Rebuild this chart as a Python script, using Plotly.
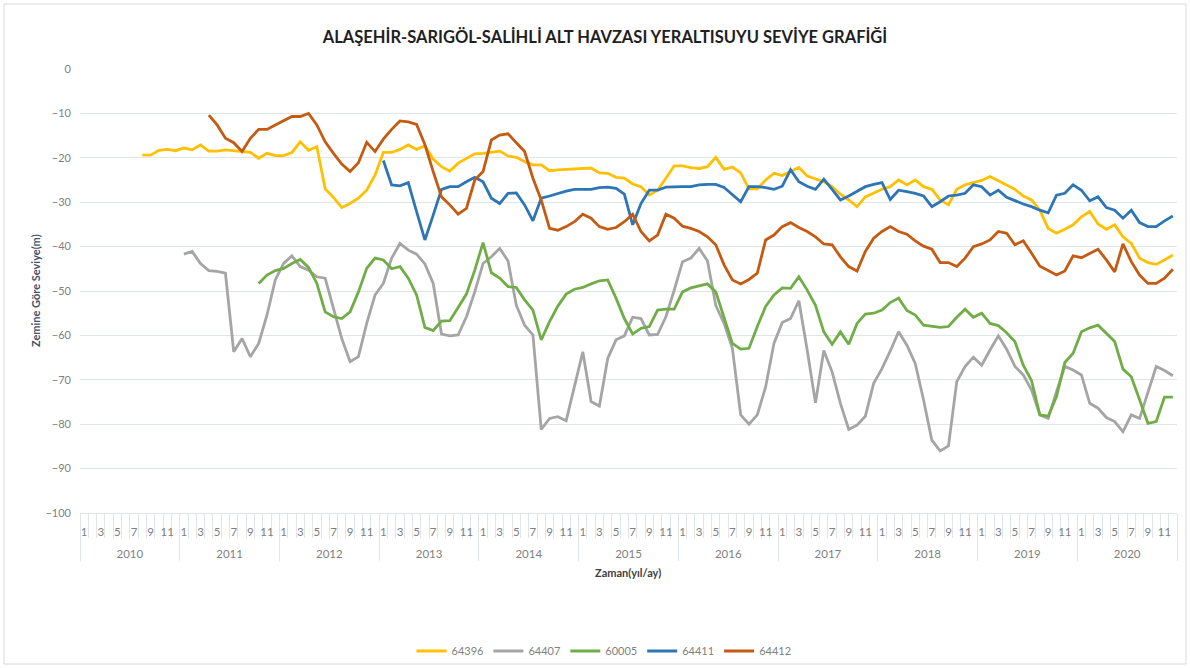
import plotly.graph_objects as go

# ---------------- data ----------------
years = list(range(2010, 2021))
months = list(range(1, 13))
month_labels = ["1", "", "3", "", "5", "", "7", "", "9", "", "11", ""]
series_names = ["64396", "64407", "60005", "64411", "64412"]
series_colors = ["#FFC000", "#A5A5A5", "#70AD47", "#2E75B6", "#C55A11"]

s64396 = [None] * 7 + [
    -19.4, -19.4, -18.3, -18.1, -18.4,                                   # 2010 Aug-Dec
    -17.8, -18.2, -17.1, -18.5, -18.5, -18.2, -18.4, -18.7, -18.8, -20.1, -19.0, -19.5,  # 2011
    -19.5, -18.8, -16.4, -18.3, -17.5, -27.0, -28.9, -31.2, -30.3, -29.1, -27.3, -23.9,  # 2012
    -18.8, -18.8, -18.1, -17.1, -18.1, -17.3, -20.3, -22.0, -23.0, -21.2, -20.1, -19.1,  # 2013
    -19.0, -18.8, -18.5, -19.6, -19.9, -20.9, -21.6, -21.6, -22.9, -22.7, -22.6, -22.5,  # 2014
    -22.4, -22.3, -23.4, -23.5, -24.4, -24.6, -25.9, -26.5, -28.4, -27.3, -24.6, -21.8,  # 2015
    -21.8, -22.2, -22.4, -22.0, -19.9, -22.6, -22.1, -23.4, -27.0, -27.0, -25.0, -23.5,  # 2016
    -24.0, -23.1, -22.2, -24.1, -24.8, -25.4, -26.5, -28.2, -29.5, -31.0, -28.8, -27.9,  # 2017
    -27.1, -26.5, -25.0, -26.1, -25.0, -26.5, -27.1, -29.5, -30.6, -27.1, -26.1, -25.6,  # 2018
    -25.1, -24.2, -25.1, -26.1, -27.1, -28.6, -29.5, -31.8, -35.9, -37.0, -36.1, -35.1,  # 2019
    -33.3, -32.1, -34.9, -36.1, -35.1, -37.8, -39.3, -42.6, -43.6, -44.0, -43.0, -41.9,  # 2020
]

s64407 = [None] * 12 + [
    -41.7, -41.1, -43.8, -45.4, -45.6, -46.0, -63.7, -60.7, -64.8, -61.8, -55.4, -47.5,  # 2011
    -43.8, -42.1, -44.5, -45.3, -46.8, -47.1, -53.9, -60.7, -65.9, -64.8, -57.3, -50.9,  # 2012
    -48.3, -42.6, -39.3, -40.8, -41.7, -43.9, -48.3, -59.7, -60.1, -59.9, -55.8, -50.2,  # 2013
    -43.8, -42.3, -40.4, -43.2, -53.2, -57.7, -59.9, -81.2, -78.7, -78.3, -79.2, -71.6,  # 2014
    -63.7, -74.9, -75.9, -65.2, -61.0, -60.1, -55.9, -56.2, -59.9, -59.8, -55.8, -49.8,  # 2015
    -43.4, -42.6, -40.4, -43.2, -53.2, -57.3, -62.9, -77.9, -80.0, -77.9, -71.6, -61.8,  # 2016
    -57.1, -56.2, -52.2, -63.3, -75.2, -63.4, -68.2, -75.3, -81.2, -80.2, -78.2, -70.8,  # 2017
    -67.5, -63.5, -59.2, -62.2, -66.3, -74.5, -83.6, -86.0, -84.9, -70.4, -67.0, -64.9,  # 2018
    -66.7, -63.3, -60.1, -63.1, -67.0, -68.9, -72.3, -77.9, -78.7, -72.7, -67.0, -67.8,  # 2019
    -68.9, -75.3, -76.4, -78.5, -79.4, -81.7, -77.9, -78.7, -73.0, -67.0, -67.9, -69.1,  # 2020
]

s60005 = [None] * 21 + [
    -48.3, -46.4, -45.4,                                                                 # 2011 Oct-Dec
    -44.9, -43.8, -42.9, -44.7, -48.3, -54.7, -55.8, -56.2, -54.7, -50.2, -44.9, -42.6,  # 2012
    -43.0, -45.0, -44.5, -47.1, -50.9, -58.2, -58.9, -56.8, -56.7, -53.7, -50.7, -45.3,  # 2013
    -39.1, -45.9, -47.1, -49.0, -49.2, -52.0, -54.3, -61.0, -56.9, -53.4, -50.7, -49.6,  # 2014
    -49.2, -48.4, -47.7, -47.5, -51.6, -56.2, -59.7, -58.4, -58.0, -54.3, -54.1, -54.1,  # 2015
    -50.2, -49.3, -48.8, -48.4, -50.2, -55.9, -61.8, -63.1, -62.9, -58.0, -53.5, -50.9,  # 2016
    -49.3, -49.4, -46.8, -49.8, -53.2, -59.2, -62.0, -59.2, -62.0, -57.3, -55.2, -55.0,  # 2017
    -54.3, -52.6, -51.6, -54.4, -55.4, -57.7, -58.0, -58.2, -58.0, -55.9, -54.1, -55.9,  # 2018
    -55.0, -57.3, -57.8, -59.4, -61.4, -66.7, -70.2, -77.9, -78.2, -73.8, -66.1, -64.0,  # 2019
    -59.2, -58.3, -57.7, -59.5, -61.4, -67.6, -69.3, -74.5, -79.8, -79.4, -73.9, -73.9,  # 2020
]

s64411 = [None] * 36 + [
    -20.6, -26.1, -26.3, -25.6, -32.1, -38.5, -32.9, -27.1, -26.5, -26.5, -25.4, -24.4,  # 2013
    -25.4, -29.1, -30.3, -28.0, -27.9, -30.6, -34.2, -29.1, -28.6, -28.0, -27.5, -27.1,  # 2014
    -27.1, -27.1, -26.7, -26.6, -26.9, -28.2, -35.1, -30.3, -27.3, -27.3, -26.6, -26.5,  # 2015
    -26.5, -26.5, -26.1, -26.0, -26.0, -26.7, -28.4, -29.9, -26.5, -26.5, -26.7, -27.1,  # 2016
    -26.4, -22.7, -25.4, -26.4, -27.1, -24.8, -27.1, -29.5, -28.6, -27.6, -26.5, -26.0,  # 2017
    -25.6, -29.4, -27.3, -27.6, -28.0, -28.6, -31.0, -29.9, -28.6, -28.4, -28.0, -26.1,  # 2018
    -26.5, -28.4, -27.3, -28.9, -29.7, -30.4, -31.0, -31.8, -32.4, -28.4, -28.0, -26.1,  # 2019
    -27.3, -29.7, -28.8, -31.2, -31.8, -33.6, -31.8, -34.6, -35.5, -35.5, -34.2, -33.1,  # 2020
]

s64412 = [None] * 15 + [
    -10.4, -12.6, -15.6, -16.6, -18.6, -15.6, -13.6, -13.6, -12.6,                       # 2011 Apr-Dec
    -11.6, -10.7, -10.7, -10.0, -12.6, -16.4, -19.0, -21.4, -23.1, -21.1, -16.5, -18.6,  # 2012
    -15.8, -13.6, -11.7, -11.9, -12.5, -17.0, -23.1, -28.8, -30.6, -32.7, -31.4, -25.0,  # 2013
    -23.1, -16.0, -14.9, -14.6, -16.6, -18.6, -24.6, -29.5, -35.9, -36.3, -35.5, -34.4,  # 2014
    -32.7, -33.6, -35.5, -36.1, -35.7, -34.4, -32.7, -36.6, -38.7, -37.4, -32.7, -33.6,  # 2015
    -35.4, -35.9, -36.6, -37.8, -39.6, -44.1, -47.5, -48.4, -47.4, -46.0, -38.5, -37.4,  # 2016
    -35.5, -34.6, -35.7, -36.6, -37.8, -39.4, -39.6, -42.3, -44.5, -45.5, -41.1, -38.1,  # 2017
    -36.6, -35.5, -36.6, -37.2, -38.7, -39.9, -40.6, -43.6, -43.6, -44.5, -42.6, -40.0,  # 2018
    -39.4, -38.5, -36.6, -37.0, -39.6, -38.7, -41.5, -44.4, -45.4, -46.4, -45.5, -42.1,  # 2019
    -42.5, -41.5, -40.6, -43.0, -45.7, -39.4, -43.4, -46.4, -48.3, -48.3, -47.1, -45.1,  # 2020
]

series_values = [s64396, s64407, s60005, s64411, s64412]

# ---------------- category positions ----------------
n_cat = len(years) * len(months)
x_idx = list(range(n_cat))
month_tickvals = [i for i in x_idx if month_labels[i % 12] != ""]
month_ticktext = [month_labels[i % 12] for i in month_tickvals]
year_tickvals = [k * 12 + 5.5 for k in range(len(years))]
year_ticktext = [str(y) for y in years]

GRID = "#E0E4EB"
FONT = "Lato, 'Open Sans', sans-serif"

fig = go.Figure()
for k, (name, vals, col) in enumerate(zip(series_names, series_values, series_colors)):
    # the last series is drawn through the (identical) year axis so that it renders
    fig.add_trace(go.Scatter(
        x=x_idx, y=vals, name=name, mode="lines",
        line=dict(color=col, width=2.8), connectgaps=False,
        xaxis="x2" if k == len(series_names) - 1 else "x",
    ))

W, H = 1190, 668
ML, MR, MT, MB = 80, 13, 69, 50
plot_bottom_px = 513
paper_h = H - MT - MB
ydom0 = (H - MB - plot_bottom_px) / paper_h

fig.update_layout(
    width=W, height=H,
    margin=dict(l=ML, r=MR, t=MT, b=MB, autoexpand=False),
    paper_bgcolor="white", plot_bgcolor="white",
    font=dict(family=FONT, color="#7F7F7F", size=11),
    title=dict(
        text="<b>ALAŞEHİR-SARIGÖL-SALİHLİ ALT HAVZASI YERALTISUYU SEVİYE GRAFİĞİ</b>",
        x=605 / W, xanchor="center", xref="container",
        y=1 - 37 / H, yanchor="middle", yref="container",
        font=dict(family=FONT, size=16.5, color="#1F1F1F"),
    ),
    xaxis=dict(
        range=[-0.5, n_cat - 0.5], anchor="y",
        tickmode="array", tickvals=month_tickvals, ticktext=month_ticktext,
        ticks="", showgrid=False, zeroline=False,
        showline=True, linecolor=GRID, linewidth=1,
        tickfont=dict(size=11.5, color="#7F7F7F"),
        ticklabelstandoff=8,
        minor=dict(ticks="outside", tick0=-0.5, dtick=1, ticklen=24,
                   tickcolor=GRID, tickwidth=1, showgrid=False),
    ),
    xaxis2=dict(
        range=[-0.5, n_cat - 0.5], overlaying="x", anchor="free", position=ydom0,
        side="bottom",
        tickmode="array", tickvals=year_tickvals, ticktext=year_ticktext,
        ticks="", showgrid=False, zeroline=False, showline=False,
        tickfont=dict(size=11.5, color="#7F7F7F"),
        ticklabelstandoff=32,
        minor=dict(ticks="outside", tick0=-0.5, dtick=12, ticklen=47,
                   tickcolor=GRID, tickwidth=1, showgrid=False),
    ),
    yaxis=dict(
        domain=[ydom0, 1], range=[-100, 0], dtick=10,
        showgrid=True, gridcolor=GRID, gridwidth=1,
        zeroline=False, showline=False, ticks="",
        tickfont=dict(size=11, color="#7F7F7F"),
        ticklabelstandoff=8,
    ),
    legend=dict(
        orientation="h", xref="container", x=604 / W, xanchor="center",
        yref="container", y=(H - 651) / H, yanchor="middle",
        font=dict(size=11, color="#7F7F7F"), itemwidth=30,
        bgcolor="rgba(0,0,0,0)", traceorder="normal",
    ),
    showlegend=True,
)

fig.add_annotation(
    text="<b>Zaman(yıl/ay)</b>", xref="paper", yref="paper",
    x=(628 - ML) / (W - ML - MR), y=(H - MB - 572) / paper_h,
    xanchor="center", yanchor="middle", showarrow=False,
    font=dict(family=FONT, size=11, color="#404040"),
)
fig.add_annotation(
    text="<b>Zemine Göre Seviye(m)</b>", xref="paper", yref="paper",
    x=(35 - ML) / (W - ML - MR), y=(H - MB - 291) / paper_h,
    xanchor="center", yanchor="middle", textangle=-90, showarrow=False,
    font=dict(family=FONT, size=11, color="#44546A"),
)
# chart-area border
fig.add_shape(
    type="rect", xref="paper", yref="paper",
    x0=(4 - ML) / (W - ML - MR), x1=(1186 - ML) / (W - ML - MR),
    y0=(H - MB - 664) / paper_h, y1=(H - MB - 4) / paper_h,
    line=dict(color="#D9D9D9", width=1), layer="below",
)

fig.write_html(
    "out.html",
    config={"displayModeBar": False},
    post_script="document.body.style.margin='0px';",
)
